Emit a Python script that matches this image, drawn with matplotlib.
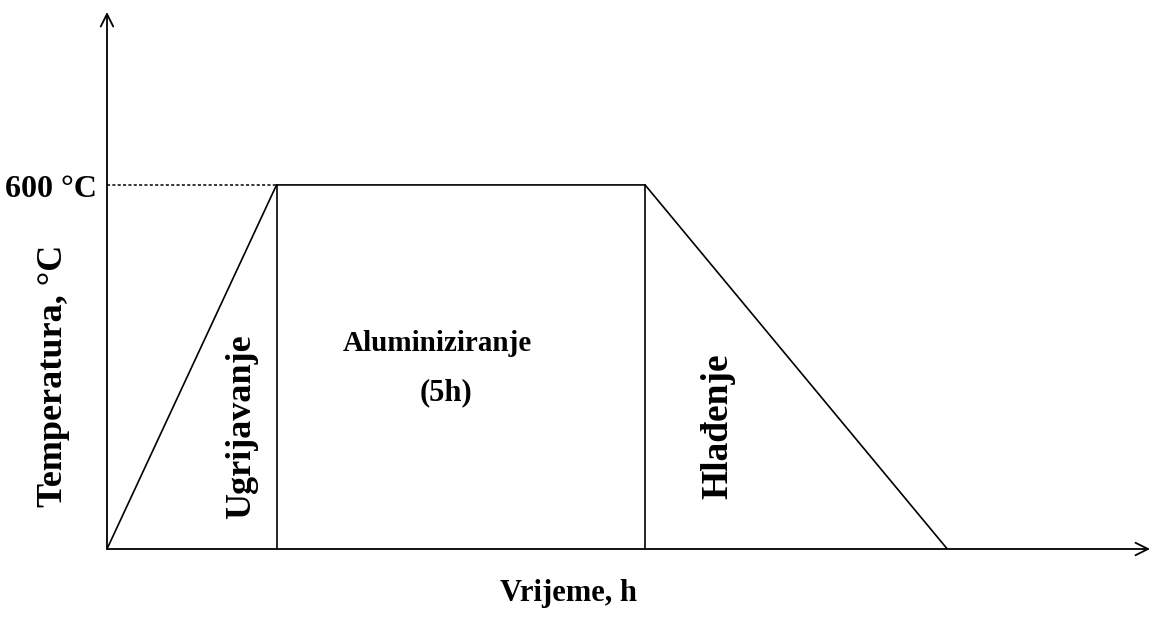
"""
Heat treatment schedule for aluminizing: heating, 5h hold at 600 C, cooling.
"""

import matplotlib.pyplot as plt

# process curve (time in h, temperature in C)
time_h = [0, 2.3, 7.3, 11.4]
temp_c = [0, 600, 600, 0]
hold_temp = 600
stage_labels = ["Ugrijavanje", "Aluminiziranje", "(5h)", "Hlađenje"]

x_max = 14.15
y_max = 885

plt.rcParams["font.family"] = ["Liberation Serif", "DejaVu Serif"]
plt.rcParams["font.weight"] = "bold"

fig = plt.figure(figsize=(11.57, 6.19), dpi=100)
ax = fig.add_axes([107 / 1157, 70 / 619, (1150 - 107) / 1157, (607 - 70) / 619])
ax.set_xlim(0, x_max)
ax.set_ylim(0, y_max)
ax.axis("off")

# axes with arrow heads
arrow = dict(arrowstyle="->,head_length=0.9,head_width=0.45", lw=1.3, color="black",
             shrinkA=0, shrinkB=0)
ax.annotate("", xy=(x_max, 0), xytext=(0, 0), arrowprops=arrow)
ax.annotate("", xy=(0, y_max), xytext=(0, 0), arrowprops=arrow)

# temperature curve
ax.plot(time_h, temp_c, color="black", lw=1.2, solid_joinstyle="miter")
# stage boundaries
for t in time_h[1:3]:
    ax.plot([t, t], [0, hold_temp], color="black", lw=1.2)
# dotted guide to the axis
ax.plot([0, time_h[1]], [hold_temp, hold_temp], color="black", lw=1.1,
        linestyle=(0, (2, 1.5)))

ax.text(-0.136, 593, "600 °C", ha="right", va="center", fontsize=23)

ax.text(1.82, 201, stage_labels[0], rotation=90, ha="center", va="center", fontsize=26)
ax.text(4.48, 338, stage_labels[1], ha="center", va="center", fontsize=21)
ax.text(4.60, 257, stage_labels[2], ha="center", va="center", fontsize=22)
ax.text(8.29, 202, stage_labels[3], rotation=90, ha="center", va="center", fontsize=27)

fig.text(568 / 1157, 1 - 594 / 619, "Vrijeme, h", ha="center", va="center", fontsize=22)
fig.text(53 / 1157, 1 - 376 / 619, "Temperatura, °C", rotation=90, ha="center",
         va="center", fontsize=26)

fig.savefig("out.png", dpi=100)
